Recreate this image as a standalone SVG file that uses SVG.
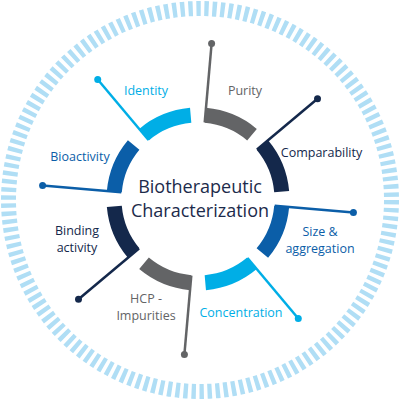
<svg xmlns="http://www.w3.org/2000/svg" width="400" height="400" viewBox="0 0 400 400">
<style>
.t{font-family:"Open Sans","Noto Sans","Liberation Sans",sans-serif;font-size:12.5px;text-anchor:middle}
.c{font-family:"Open Sans","Noto Sans","Liberation Sans",sans-serif;font-size:18px;text-anchor:middle;fill:#1c2b4b}
.arc{fill:none;stroke-width:15}
.ln{stroke-width:2.5;fill:none}
.gray{stroke:#636466}.grayf{fill:#636466}
.navy{stroke:#14284b}.navyf{fill:#14284b}
.blue{stroke:#0b5ea8}.bluef{fill:#0b5ea8}
.cyan{stroke:#00aee6}.cyanf{fill:#00aee6}
</style>
<rect width="400" height="400" fill="#ffffff"/>
<circle cx="200" cy="200" r="191.5" fill="none" stroke="#b0def5" stroke-width="15" stroke-dasharray="4.4 3.6215"/>
<g id="connectors">
<line class="ln gray" x1="204.71" y1="122.29" x2="211.60" y2="43.59"/>
<line class="ln navy" x1="256.99" y1="149.51" x2="317.50" y2="98.72"/>
<line class="ln blue" x1="274.71" y1="205.71" x2="353.41" y2="212.60"/>
<line class="ln cyan" x1="247.49" y1="257.99" x2="298.28" y2="318.50"/>
<line class="ln gray" x1="191.29" y1="275.71" x2="184.40" y2="354.41"/>
<line class="ln navy" x1="139.01" y1="248.49" x2="78.50" y2="299.28"/>
<line class="ln blue" x1="121.29" y1="192.29" x2="42.59" y2="185.40"/>
<line class="ln cyan" x1="148.51" y1="140.01" x2="97.72" y2="79.50"/>
<circle class="grayf" cx="211.60" cy="43.59" r="3.5"/>
<circle class="navyf" cx="317.50" cy="98.72" r="3.5"/>
<circle class="bluef" cx="353.41" cy="212.60" r="3.5"/>
<circle class="cyanf" cx="298.28" cy="318.50" r="3.5"/>
<circle class="grayf" cx="184.40" cy="354.41" r="3.5"/>
<circle class="navyf" cx="78.50" cy="299.28" r="3.5"/>
<circle class="bluef" cx="42.59" cy="185.40" r="3.5"/>
<circle class="cyanf" cx="97.72" cy="79.50" r="3.5"/>
</g>
<g id="center">
<text class="c" x="200" y="193">Biotherapeutic</text>
<text class="c" x="200" y="217">Characterization</text>
</g>
<g id="purity">
<path class="arc gray" d="M205.32 115.32 A84 84 0 0 1 251.99 134.65"/>
<text class="t grayf" x="245" y="95">Purity</text>
</g>
<g id="comparability">
<path class="arc navy" d="M262.35 145.01 A84 84 0 0 1 281.68 191.68"/>
<text class="t navyf" x="321.5" y="157">Comparability</text>
</g>
<g id="size">
<path class="arc blue" d="M281.68 206.32 A84 84 0 0 1 262.35 252.99"/>
<text class="t bluef" x="320" y="235.5">Size &amp;</text>
<text class="t bluef" x="320" y="252.5">aggregation</text>
</g>
<g id="concentration">
<path class="arc cyan" d="M251.99 263.35 A84 84 0 0 1 205.32 282.68"/>
<text class="t cyanf" x="241" y="317">Concentration</text>
</g>
<g id="hcp">
<path class="arc gray" d="M190.68 282.68 A84 84 0 0 1 144.01 263.35"/>
<text class="t grayf" x="146" y="303">HCP -</text>
<text class="t grayf" x="146" y="320">Impurities</text>
</g>
<g id="binding">
<path class="arc navy" d="M133.65 252.99 A84 84 0 0 1 114.32 206.32"/>
<text class="t navyf" x="77" y="235">Binding</text>
<text class="t navyf" x="77" y="252">activity</text>
</g>
<g id="bioactivity">
<path class="arc blue" d="M114.32 191.68 A84 84 0 0 1 133.65 145.01"/>
<text class="t bluef" x="80" y="161">Bioactivity</text>
</g>
<g id="identity">
<path class="arc cyan" d="M144.01 134.65 A84 84 0 0 1 190.68 115.32"/>
<text class="t cyanf" x="146" y="95">Identity</text>
</g>
</svg>
